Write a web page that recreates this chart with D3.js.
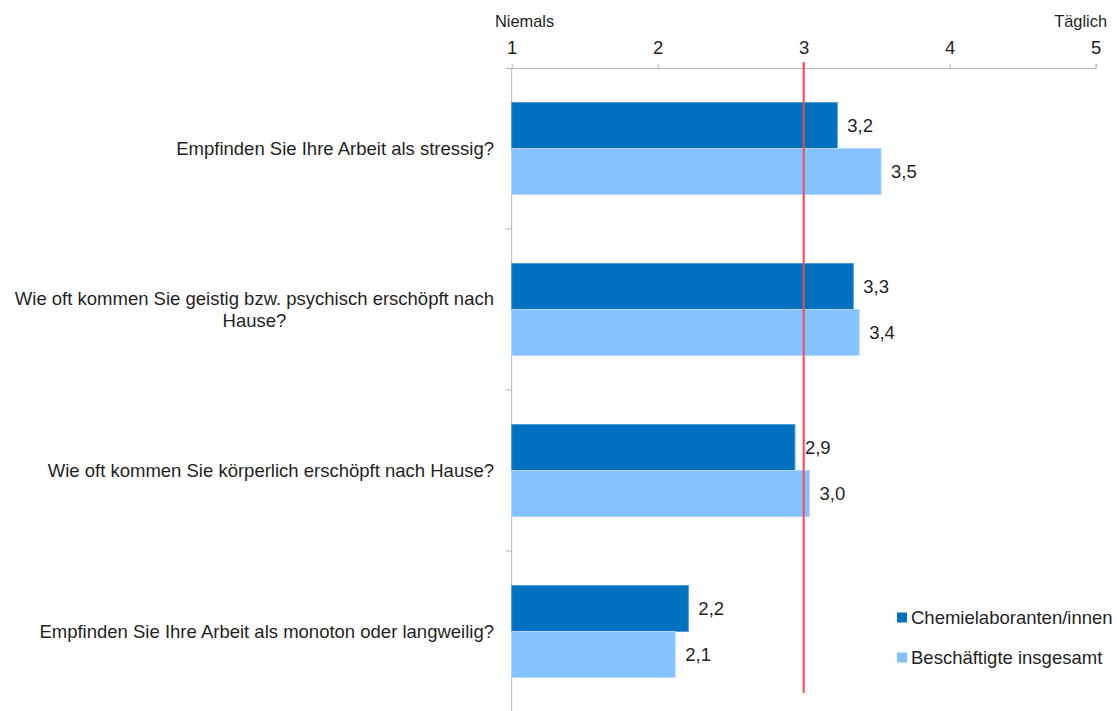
<!DOCTYPE html>
<html><head><meta charset="utf-8">
<script src="https://cdn.jsdelivr.net/npm/d3@7"></script>
<style>
html,body{margin:0;padding:0;background:#fff;}
text{font-family:"Liberation Sans",Arial,sans-serif;fill:#1f1f1f;}
</style></head>
<body><svg id="chart" width="1117" height="711"></svg>
<script>
const categories = [
  "Empfinden Sie Ihre Arbeit als stressig?",
  "Wie oft kommen Sie geistig bzw. psychisch erschöpft nach Hause?",
  "Wie oft kommen Sie körperlich erschöpft nach Hause?",
  "Empfinden Sie Ihre Arbeit als monoton oder langweilig?"
];
const categoryLines = [
  ["Empfinden Sie Ihre Arbeit als stressig?"],
  ["Wie oft kommen Sie geistig bzw. psychisch erschöpft nach", "Hause?"],
  ["Wie oft kommen Sie körperlich erschöpft nach Hause?"],
  ["Empfinden Sie Ihre Arbeit als monoton oder langweilig?"]
];
const seriesNames = ["Chemielaboranten/innen", "Beschäftigte insgesamt"];
const chemielaboranten = [3.23, 3.34, 2.94, 2.21];
const insgesamt = [3.53, 3.38, 3.04, 2.12];
const xTicks = [1, 2, 3, 4, 5];
const scaleEndLabels = ["Niemals", "Täglich"];
const referenceValue = 3;
const colors = ["#0070C0", "#85C1FF"];
const strokes = ["#4d9bd6", "#b3d8ff"];

const svg = d3.select("#chart");
const FS = 18.5;
const x = d3.scaleLinear().domain([1, 5]).range([511.7, 1095.7]);
const y = d3.scaleBand().domain(categories).range([68, 712]).paddingInner(69/161).paddingOuter(69/322);
const ySub = d3.scaleBand().domain([0, 1]).range([0, y.bandwidth()]);
const series = [chemielaboranten, insgesamt];
const fmt = v => d3.format(".1f")(v).replace(".", ",");

// top axis
const xAxis = d3.axisTop(x).tickValues(xTicks).tickSize(4).tickSizeOuter(4).tickPadding(10).tickFormat(d3.format("d"));
const gx = svg.append("g").attr("transform", "translate(0,68)").call(xAxis);
gx.select(".domain").attr("stroke", "#b5b5b5").attr("d", "M505.5,0.5H" + (x(5)+0.5) + "V-4");
gx.selectAll(".tick line").attr("stroke", "#b5b5b5");
gx.selectAll(".tick text").attr("font-size", FS).attr("fill", "#1f1f1f")
  .attr("font-family", '"Liberation Sans",Arial,sans-serif');

// scale end labels
svg.append("text").attr("x", 495).attr("y", 27).attr("font-size", 16.4).text(scaleEndLabels[0]);
svg.append("text").attr("x", 1107).attr("y", 27).attr("font-size", 16.4).attr("text-anchor", "end").text(scaleEndLabels[1]);

// left category axis
const step = y.step();
svg.append("line").attr("x1", x(1)).attr("x2", x(1)).attr("y1", 68).attr("y2", 712).attr("stroke", "#b5b5b5");
svg.selectAll(".ctick").data(categories.slice(1)).join("line")
  .attr("x1", x(1) - 6).attr("x2", x(1))
  .attr("y1", d => y(d) - step * y.paddingInner() / 2)
  .attr("y2", d => y(d) - step * y.paddingInner() / 2)
  .attr("stroke", "#b5b5b5");

// bars
categories.forEach((c, i) => {
  series.forEach((s, j) => {
    const y0 = y(c) + ySub(j);
    svg.append("rect")
      .attr("x", x(1)).attr("y", y0)
      .attr("width", x(s[i]) - x(1)).attr("height", ySub.bandwidth())
      .attr("fill", colors[j]).attr("stroke", strokes[j]).attr("stroke-width", 1);
    svg.append("text")
      .attr("x", x(s[i]) + 10).attr("y", y0 + ySub.bandwidth() / 2 + FS * 0.36)
      .attr("font-size", FS).text(fmt(s[i]));
  });
});

// category labels
const labelRight = 494;
categories.forEach((c, i) => {
  const lines = categoryLines[i];
  const cy = y(c) + y.bandwidth() / 2;
  const lh = 21.7;
  const g = svg.append("g");
  const texts = lines.map((l, k) => g.append("text")
    .attr("y", cy - (lines.length - 1) * lh / 2 + k * lh + FS * 0.36)
    .attr("font-size", FS).attr("text-anchor", "middle").text(l));
  const maxW = d3.max(texts, t => t.node().getComputedTextLength());
  texts.forEach(t => t.attr("x", labelRight - maxW / 2));
});

// reference line
svg.append("line").attr("x1", x(referenceValue)).attr("x2", x(referenceValue))
  .attr("y1", 62).attr("y2", 693).attr("stroke", "#ff4545").attr("stroke-width", 2);

// legend
const legendY = [617.5, 657.5];
seriesNames.forEach((n, j) => {
  svg.append("rect").attr("x", 897).attr("y", legendY[j] - 5).attr("width", 10).attr("height", 10).attr("fill", colors[j]);
  svg.append("text").attr("x", 911).attr("y", legendY[j] + FS * 0.36).attr("font-size", FS).text(n);
});
</script></body></html>
